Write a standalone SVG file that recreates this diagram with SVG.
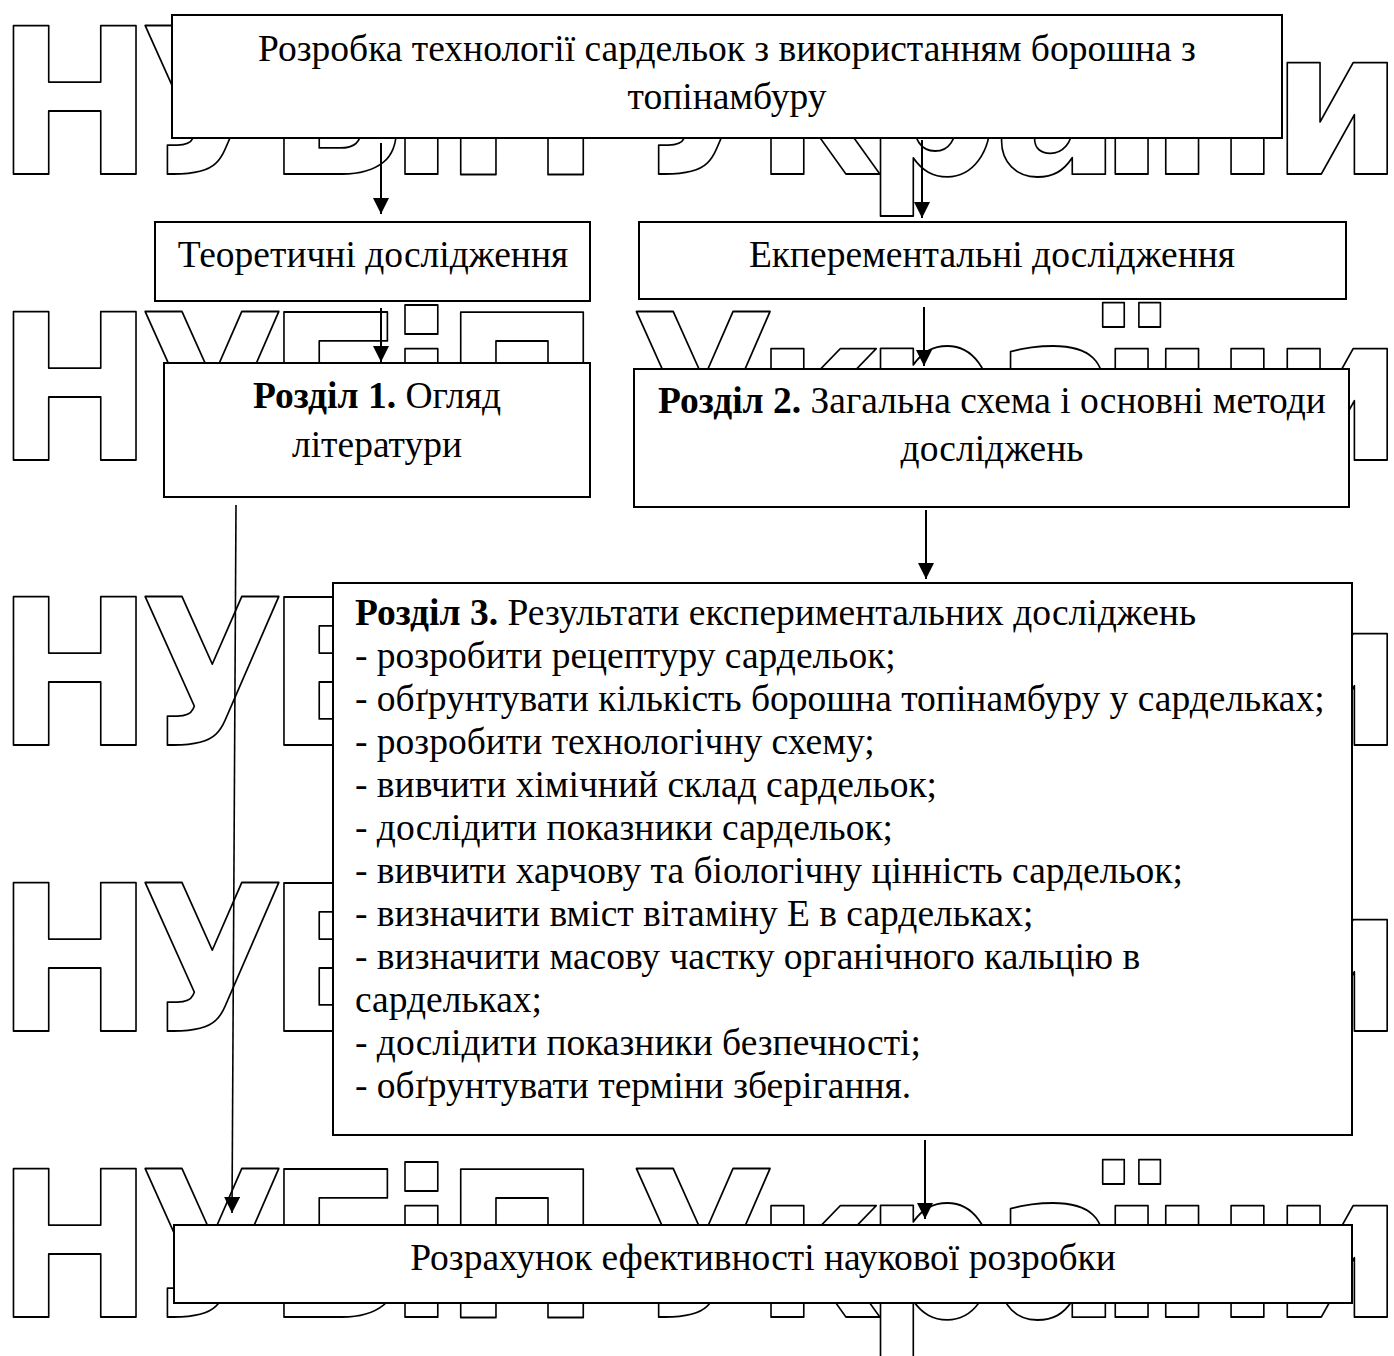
<svg xmlns="http://www.w3.org/2000/svg" width="1394" height="1356" viewBox="0 0 1394 1356">
<style>
.wm { font-family: "DejaVu Sans", sans-serif; font-weight: bold; font-size: 204px; fill: none; stroke: #000; stroke-width: 1.8; stroke-linejoin: round; }
.box { fill: #fff; stroke: #000; stroke-width: 2; }
.t { font-family: "Liberation Serif", "Times New Roman", serif; font-size: 37.5px; fill: #000; }
.c { text-anchor: middle; }
.b { font-weight: bold; }
.conn line { stroke: #000; stroke-width: 2; }
</style>
<defs>
<marker id="ah" markerUnits="userSpaceOnUse" markerWidth="16" markerHeight="16" viewBox="0 0 16 16" refX="16" refY="8" orient="auto">
<path d="M0,0 L16,8 L0,16 z" fill="#000"/>
</marker>
</defs>
<rect width="1394" height="1356" fill="#fff"/>
<g id="watermark" transform="scale(0.92,1)">
<text class="wm" x="-4 152 290 423 482 650 686 821 940 1080 1195 1250 1382" y="174">НУБіП України</text>
<text class="wm" x="-4 152 290 423 482 650 686 821 940 1080 1195 1250 1382" y="460">НУБіП України</text>
<text class="wm" x="-4 152 290 423 482 650 686 821 940 1080 1195 1250 1382" y="745">НУБіП України</text>
<text class="wm" x="-4 152 290 423 482 650 686 821 940 1080 1195 1250 1382" y="1031">НУБіП України</text>
<text class="wm" x="-4 152 290 423 482 650 686 821 940 1080 1195 1250 1382" y="1317">НУБіП України</text>
</g>
<g id="title">
<rect class="box" x="172" y="15" width="1110" height="123"/>
<text class="t c" x="727" y="61">Розробка технології сардельок з використанням борошна з</text>
<text class="t c" x="727" y="109">топінамбуру</text>
</g>
<g id="theory">
<rect class="box" x="155" y="222" width="435" height="79"/>
<text class="t c" x="373" y="267">Теоретичні дослідження</text>
</g>
<g id="experiment">
<rect class="box" x="639" y="222" width="707" height="77"/>
<text class="t c" x="992" y="267">Екперементальні дослідження</text>
</g>
<g id="section1">
<rect class="box" x="164" y="363" width="426" height="134"/>
<text class="t c" x="377" y="408"><tspan class="b">Розділ 1.</tspan> Огляд</text>
<text class="t c" x="377" y="457">літератури</text>
</g>
<g id="section2">
<rect class="box" x="634" y="369" width="715" height="138"/>
<text class="t c" x="992" y="413"><tspan class="b">Розділ 2.</tspan> Загальна схема і основні методи</text>
<text class="t c" x="992" y="461">досліджень</text>
</g>
<g id="section3">
<rect class="box" x="333" y="583" width="1019" height="552"/>
<text class="t" x="355" y="625"><tspan class="b">Розділ 3.</tspan> Результати експериментальних досліджень</text>
<text class="t" x="355" y="668">- розробити рецептуру сардельок;</text>
<text class="t" x="355" y="711">- обґрунтувати кількість борошна топінамбуру у сардельках;</text>
<text class="t" x="355" y="754">- розробити технологічну схему;</text>
<text class="t" x="355" y="797">- вивчити хімічний склад сардельок;</text>
<text class="t" x="355" y="840">- дослідити показники сардельок;</text>
<text class="t" x="355" y="883">- вивчити харчову та біологічну цінність сардельок;</text>
<text class="t" x="355" y="926">- визначити вміст вітаміну Е в сардельках;</text>
<text class="t" x="355" y="969">- визначити масову частку органічного кальцію в</text>
<text class="t" x="355" y="1012">сардельках;</text>
<text class="t" x="355" y="1055">- дослідити показники безпечності;</text>
<text class="t" x="355" y="1098">- обґрунтувати терміни зберігання.</text>
</g>
<g id="efficiency">
<rect class="box" x="174" y="1225" width="1178" height="78"/>
<text class="t c" x="763" y="1270">Розрахунок ефективності наукової розробки</text>
</g>
<g id="connectors" class="conn">
<line x1="381" y1="143" x2="381" y2="214" marker-end="url(#ah)"/>
<line x1="922" y1="140" x2="922" y2="218" marker-end="url(#ah)"/>
<line x1="381" y1="308" x2="381" y2="362" marker-end="url(#ah)"/>
<line x1="924" y1="307" x2="924" y2="366" marker-end="url(#ah)"/>
<line x1="926" y1="510" x2="926" y2="579" marker-end="url(#ah)"/>
<line x1="236" y1="505" x2="232" y2="1213" marker-end="url(#ah)" style="stroke-width:1.6"/>
<line x1="925" y1="1140" x2="925" y2="1219" marker-end="url(#ah)"/>
</g>
</svg>
